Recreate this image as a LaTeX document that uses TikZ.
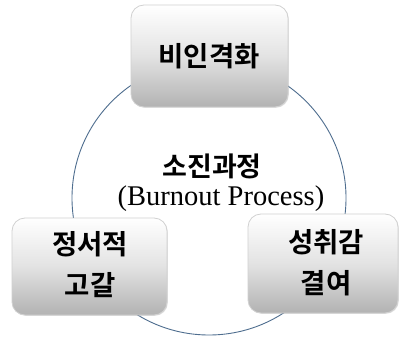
\documentclass[tikz,border=0pt]{standalone}
\usepackage{fontspec}
\setmainfont{Liberation Serif}
\newfontfamily\kr{Noto Sans CJK KR}[BoldFont={* Bold}]
\usetikzlibrary{shadows}
\definecolor{ringblue}{HTML}{4F6E8F}
\tikzset{
  stagebox/.style={rounded corners=13pt, top color=white, bottom color=black!30,
    middle color=black!11, draw=black!18, line width=0.8pt,
    drop shadow={shadow xshift=0.8pt, shadow yshift=-0.8pt, opacity=0.25}},
  stagetext/.style={font=\kr\bfseries\fontsize{27.5}{41}\selectfont, align=center},
}
\begin{document}
\begin{tikzpicture}[x=1pt,y=-1pt]
  \useasboundingbox (0,0) rectangle (401,339);
  \fill[white] (0,0) rectangle (401,339);
  % process ring
  \coordinate (ring) at (209,198);
  \draw[ringblue, line width=0.9pt] (ring) circle[radius=137];
  % three stages on the ring
  \path[stagebox] (131,5) rectangle (288,107);
  \node[stagetext] (depers) at (209,56) {비인격화};
  \path[stagebox] (12,218) rectangle (167,315);
  \node[stagetext] (exhaust) at (90,265) {정서적\\고갈};
  \path[stagebox] (248,214) rectangle (398,313);
  \node[stagetext] (accomp) at (326,263) {성취감\\결여};
  % centre title
  \node[font=\kr\bfseries\fontsize{27}{30}\selectfont] (title) at (212,166) {소진과정};
  \node[font=\fontsize{28.5}{30}\selectfont] (subtitle) at (221,199) {(Burnout Process)};
\end{tikzpicture}
\end{document}
